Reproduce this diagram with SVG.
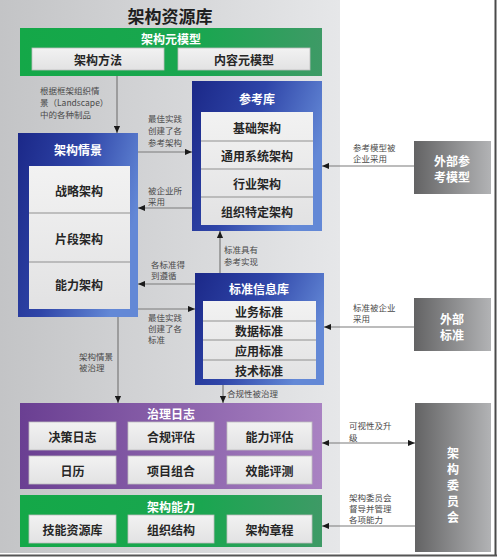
<svg xmlns="http://www.w3.org/2000/svg" width="499" height="560" viewBox="0 0 499 560">
<defs>
<linearGradient id="panel" x1="0" y1="0" x2="1" y2="0"><stop offset="0" stop-color="#c3c4c6"/><stop offset="1" stop-color="#e6e7e9"/></linearGradient>
<linearGradient id="blue" x1="0" y1="0" x2="1" y2="0.4"><stop offset="0" stop-color="#1b2888"/><stop offset="0.5" stop-color="#2f45a8"/><stop offset="1" stop-color="#6388d6"/></linearGradient>
<linearGradient id="purple" x1="0" y1="0" x2="1" y2="0"><stop offset="0" stop-color="#6a3f92"/><stop offset="1" stop-color="#a982c2"/></linearGradient>
<linearGradient id="green" x1="0" y1="0" x2="1" y2="0"><stop offset="0" stop-color="#14a848"/><stop offset="0.6" stop-color="#1aa650"/><stop offset="1" stop-color="#3e9a66"/></linearGradient>
<linearGradient id="ext" x1="0" y1="0" x2="1" y2="0"><stop offset="0" stop-color="#636364"/><stop offset="1" stop-color="#b2b3b5"/></linearGradient>
<linearGradient id="cell" x1="0" y1="0" x2="0" y2="1"><stop offset="0" stop-color="#f2f2f2"/><stop offset="1" stop-color="#e2e2e3"/></linearGradient>
<marker id="ah" viewBox="0 0 8 8" refX="8" refY="4" markerWidth="7" markerHeight="7" orient="auto-start-reverse" markerUnits="userSpaceOnUse"><path d="M0,0.5 L8,4 L0,7.5 Z" fill="#1a1a1a"/></marker>
</defs>
<style>
.cjk{font-family:"Noto Sans CJK SC","Noto Sans",sans-serif}
.title{font-size:17px;font-weight:700;fill:#1e1e1e;text-anchor:middle}
.hdr{font-size:12px;font-weight:700;fill:#ffffff;text-anchor:middle;dominant-baseline:central}
.cell{font-size:12px;font-weight:700;fill:#262626;text-anchor:middle;dominant-baseline:central}
.ext{font-size:12px;font-weight:700;fill:#ffffff;text-anchor:middle;dominant-baseline:central}
.lbl{font-size:8.5px;fill:#4a4a4a;dominant-baseline:central}
.box{fill:url(#cell);stroke:#bdbdbd;stroke-width:0.8}
.sep{stroke:#8f8f8f;stroke-width:1.2}
.conn{stroke:#7a7a7a;stroke-width:1.2;fill:none;marker-end:url(#ah)}
</style>
<rect x="0" y="0" width="499" height="560" fill="#ffffff"/>
<rect x="0" y="0" width="340" height="553" fill="url(#panel)"/>
<line x1="495.5" y1="0" x2="495.5" y2="556" stroke="#4a4a4a" stroke-width="2"/>
<line x1="0" y1="555.5" x2="497" y2="555.5" stroke="#555" stroke-width="2"/>
<text class="cjk title" x="170" y="23">架构资源库</text>

<g id="metamodel">
<rect x="20" y="28" width="302" height="48" fill="url(#green)"/>
<text class="cjk hdr" x="171" y="38">架构元模型</text>
<rect class="box" x="32" y="48" width="132" height="22"/>
<text class="cjk cell" x="98" y="59">架构方法</text>
<rect class="box" x="178" y="48" width="132" height="22"/>
<text class="cjk cell" x="244" y="59">内容元模型</text>
</g>

<g id="landscape">
<rect x="18" y="133" width="120" height="184" fill="url(#blue)"/>
<text class="cjk hdr" x="78" y="149">架构情景</text>
<rect x="29" y="166" width="101" height="143" fill="url(#cell)"/>
<line class="sep" x1="29" y1="213" x2="130" y2="213"/>
<line class="sep" x1="29" y1="262" x2="130" y2="262"/>
<text class="cjk cell" x="79" y="190">战略架构</text>
<text class="cjk cell" x="79" y="238">片段架构</text>
<text class="cjk cell" x="79" y="284">能力架构</text>
</g>

<g id="reflib">
<rect x="192" y="81" width="130" height="150" fill="url(#blue)"/>
<text class="cjk hdr" x="257" y="98">参考库</text>
<rect x="201" y="112" width="112" height="113" fill="url(#cell)"/>
<line class="sep" x1="201" y1="141" x2="313" y2="141"/>
<line class="sep" x1="201" y1="169" x2="313" y2="169"/>
<line class="sep" x1="201" y1="197" x2="313" y2="197"/>
<text class="cjk cell" x="257" y="127">基础架构</text>
<text class="cjk cell" x="257" y="155">通用系统架构</text>
<text class="cjk cell" x="257" y="183">行业架构</text>
<text class="cjk cell" x="257" y="211">组织特定架构</text>
</g>

<g id="stdlib">
<rect x="195" y="273" width="129" height="112" fill="url(#blue)"/>
<text class="cjk hdr" x="259" y="288">标准信息库</text>
<rect x="203" y="301" width="113" height="78" fill="url(#cell)"/>
<line class="sep" x1="203" y1="321" x2="316" y2="321"/>
<line class="sep" x1="203" y1="340" x2="316" y2="340"/>
<line class="sep" x1="203" y1="360" x2="316" y2="360"/>
<text class="cjk cell" x="259" y="311">业务标准</text>
<text class="cjk cell" x="259" y="330.5">数据标准</text>
<text class="cjk cell" x="259" y="350">应用标准</text>
<text class="cjk cell" x="259" y="370">技术标准</text>
</g>

<g id="govlog">
<rect x="20" y="403" width="302" height="86" fill="url(#purple)"/>
<text class="cjk hdr" x="171" y="413">治理日志</text>
<rect class="box" x="29" y="422" width="87" height="28"/>
<text class="cjk cell" x="72.5" y="436">决策日志</text>
<rect class="box" x="128" y="422" width="86" height="28"/>
<text class="cjk cell" x="171" y="436">合规评估</text>
<rect class="box" x="227" y="422" width="85" height="28"/>
<text class="cjk cell" x="269.5" y="436">能力评估</text>
<rect class="box" x="29" y="456" width="87" height="28"/>
<text class="cjk cell" x="72.5" y="470">日历</text>
<rect class="box" x="128" y="456" width="86" height="28"/>
<text class="cjk cell" x="171" y="470">项目组合</text>
<rect class="box" x="227" y="456" width="85" height="28"/>
<text class="cjk cell" x="269.5" y="470">效能评测</text>
</g>

<g id="capability">
<rect x="20" y="495" width="302" height="52" fill="url(#green)"/>
<text class="cjk hdr" x="171" y="506">架构能力</text>
<rect class="box" x="29" y="515" width="87" height="28"/>
<text class="cjk cell" x="72.5" y="529">技能资源库</text>
<rect class="box" x="128" y="515" width="86" height="28"/>
<text class="cjk cell" x="171" y="529">组织结构</text>
<rect class="box" x="227" y="515" width="85" height="28"/>
<text class="cjk cell" x="269.5" y="529">架构章程</text>
</g>

<g id="extref">
<rect x="414" y="141" width="77" height="53" fill="url(#ext)"/>
<text class="cjk ext" x="452" y="160">外部参</text>
<text class="cjk ext" x="452" y="176">考模型</text>
</g>

<g id="extstd">
<rect x="414" y="298" width="77" height="53" fill="url(#ext)"/>
<text class="cjk ext" x="452" y="318">外部</text>
<text class="cjk ext" x="452" y="334">标准</text>
</g>

<g id="board">
<rect x="415" y="403" width="76" height="149" fill="url(#ext)"/>
<text class="cjk ext" x="453" y="452">架</text>
<text class="cjk ext" x="453" y="468">构</text>
<text class="cjk ext" x="453" y="484">委</text>
<text class="cjk ext" x="453" y="500">员</text>
<text class="cjk ext" x="453" y="516">会</text>
</g>

<g id="connectors">
<line class="conn" x1="117" y1="76" x2="117" y2="133"/>
<line class="conn" x1="138" y1="152" x2="192" y2="152"/>
<line class="conn" x1="192" y1="208" x2="138" y2="208"/>
<line class="conn" x1="195" y1="284" x2="138" y2="284"/>
<line class="conn" x1="138" y1="309" x2="195" y2="309"/>
<line class="conn" x1="220" y1="273" x2="220" y2="231"/>
<line class="conn" x1="118" y1="317" x2="118" y2="403"/>
<line class="conn" x1="223" y1="385" x2="223" y2="403"/>
<line class="conn" x1="414" y1="166" x2="322" y2="166"/>
<line class="conn" x1="414" y1="327" x2="324" y2="327"/>
<line class="conn" x1="322" y1="443" x2="415" y2="443" style="marker-start:url(#ah)"/>
<line class="conn" x1="415" y1="526" x2="322" y2="526"/>
</g>

<g id="labels">
<text class="cjk lbl" x="40" y="90">根据框架组织情</text>
<text class="cjk lbl" x="40" y="102">景（Landscape）</text>
<text class="cjk lbl" x="40" y="114">中的各种制品</text>
<text class="cjk lbl" x="148" y="118">最佳实践</text>
<text class="cjk lbl" x="148" y="130">创建了各</text>
<text class="cjk lbl" x="148" y="142">参考架构</text>
<text class="cjk lbl" x="148" y="190">被企业所</text>
<text class="cjk lbl" x="148" y="201">采用</text>
<text class="cjk lbl" x="151" y="264">各标准得</text>
<text class="cjk lbl" x="151" y="275">到遵循</text>
<text class="cjk lbl" x="148" y="317">最佳实践</text>
<text class="cjk lbl" x="148" y="328">创建了各</text>
<text class="cjk lbl" x="148" y="339">标准</text>
<text class="cjk lbl" x="224" y="249">标准具有</text>
<text class="cjk lbl" x="224" y="261">参考实现</text>
<text class="cjk lbl" x="79" y="356">架构情景</text>
<text class="cjk lbl" x="79" y="367">被治理</text>
<text class="cjk lbl" x="227" y="393">合规性被治理</text>
<text class="cjk lbl" x="353" y="147">参考模型被</text>
<text class="cjk lbl" x="353" y="158">企业采用</text>
<text class="cjk lbl" x="353" y="307">标准被企业</text>
<text class="cjk lbl" x="353" y="318">采用</text>
<text class="cjk lbl" x="349" y="425">可视性及升</text>
<text class="cjk lbl" x="349" y="437">级</text>
<text class="cjk lbl" x="349" y="497">架构委员会</text>
<text class="cjk lbl" x="349" y="508">督导并管理</text>
<text class="cjk lbl" x="349" y="519">各项能力</text>
</g>
</svg>
